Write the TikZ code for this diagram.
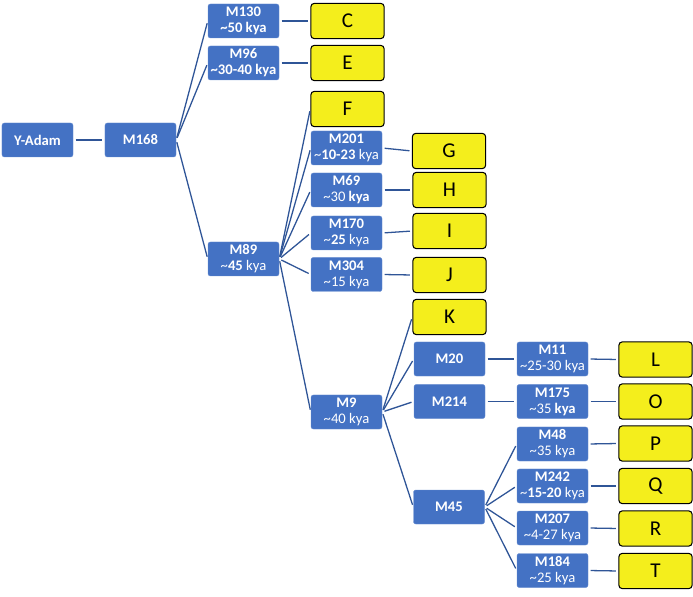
\documentclass[tikz,border=0pt]{standalone}
\usepackage{fontspec}
\setmainfont{Carlito}
\usetikzlibrary{positioning}
\definecolor{boxblue}{RGB}{68,114,196}
\definecolor{edgeblue}{RGB}{47,85,151}
\definecolor{leafyellow}{RGB}{244,238,28}
\newcommand{\ap}{\textasciitilde}

\begin{document}
\begin{tikzpicture}[x=0.03cm,y=-0.03cm,
  snp/.style={rectangle,rounded corners=2pt,fill=boxblue,draw=boxblue!80!white,text=white,minimum width=2.13cm,minimum height=1.02cm,inner sep=0pt,align=center,font=\fontsize{12.5}{13.8}\selectfont},
  hap/.style={rectangle,rounded corners=3pt,fill=leafyellow,draw=black,line width=0.9pt,minimum width=2.2cm,minimum height=1.06cm,inner sep=0pt,font=\fontsize{18}{20}\selectfont},
  link/.style={draw=edgeblue,line width=1.1pt,shorten <=2pt,shorten >=2pt}]
\useasboundingbox (0,0) rectangle (693,597);

\node [snp] (yadam) at (37.5,140) {\textbf{Y-Adam}};
\node [snp] (m168) at (140.5,140) {\textbf{M168}};
\node [snp] (m130) at (243.5,21) {\textbf{M130}\\\textbf{\ap50 kya}};
\node [snp] (m96) at (243.5,63) {\textbf{M96}\\\textbf{\ap30-40 kya}};
\node [snp] (m89) at (243.5,259) {\textbf{M89}\\\ap\textbf{45} kya};

\node [hap] (c) at (347.5,21) {C};
\node [hap] (e) at (347.5,63) {E};
\node [hap] (f) at (347.5,109) {F};
\node [snp] (m201) at (346.5,148) {\textbf{M201}\\\ap\textbf{10-23} kya};
\node [snp] (m69) at (346.5,190) {\textbf{M69}\\\ap30 \textbf{kya}};
\node [snp] (m170) at (346.5,233) {\textbf{M170}\\\ap\textbf{25} kya};
\node [snp] (m304) at (346.5,274.5) {\textbf{M304}\\\ap15 kya};
\node [snp] (m9) at (346.5,412) {\textbf{M9}\\\ap40 kya};

\node [hap] (g) at (449,151) {G};
\node [hap] (h) at (449.5,190) {H};
\node [hap] (i) at (449.5,231) {I};
\node [hap] (j) at (449.5,275) {J};
\node [hap] (k) at (449.5,317) {K};
\node [snp] (m20) at (449.5,359) {\textbf{M20}};
\node [snp] (m214) at (449.5,401.5) {\textbf{M214}};
\node [snp] (m45) at (449,507) {\textbf{M45}};

\node [snp] (m11) at (552.5,359) {\textbf{M11}\\\ap25-30 kya};
\node [snp] (m175) at (552.5,401.5) {\textbf{M175}\\\ap35 \textbf{kya}};
\node [snp] (m48) at (552.5,444) {\textbf{M48}\\\ap35 kya};
\node [snp] (m242) at (552.5,486) {\textbf{M242}\\\ap\textbf{15-20} kya};
\node [snp] (m207) at (552.5,528) {\textbf{M207}\\\ap4-27 kya};
\node [snp] (m184) at (552.5,570.5) {\textbf{M184}\\\ap25 kya};

\node [hap] (l) at (655.5,359.5) {L};
\node [hap] (o) at (655.5,401.5) {O};
\node [hap] (p) at (655.5,443.5) {P};
\node [hap] (q) at (655.5,486) {Q};
\node [hap] (r) at (655.5,528.5) {R};
\node [hap] (t) at (655.5,571) {T};

\draw [link] (yadam.east) -- (m168.west);
\draw [link] (m168.east) -- (m130.west);
\draw [link] (m168.east) -- (m96.west);
\draw [link] (m168.east) -- (m89.west);
\draw [link] (m130.east) -- (c.west);
\draw [link] (m96.east) -- (e.west);
\draw [link] (m89.east) -- (f.west);
\draw [link] (m89.east) -- (m201.west);
\draw [link] (m89.east) -- (m69.west);
\draw [link] (m89.east) -- (m170.west);
\draw [link] (m89.east) -- (m304.west);
\draw [link] (m89.east) -- (m9.west);
\draw [link] (m201.east) -- (g.west);
\draw [link] (m69.east) -- (h.west);
\draw [link] (m170.east) -- (i.west);
\draw [link] (m304.east) -- (j.west);
\draw [link] (m9.east) -- (k.west);
\draw [link] (m9.east) -- (m20.west);
\draw [link] (m9.east) -- (m214.west);
\draw [link] (m9.east) -- (m45.west);
\draw [link] (m20.east) -- (m11.west);
\draw [link] (m214.east) -- (m175.west);
\draw [link] (m11.east) -- (l.west);
\draw [link] (m175.east) -- (o.west);
\draw [link] (m45.east) -- (m48.west);
\draw [link] (m45.east) -- (m242.west);
\draw [link] (m45.east) -- (m207.west);
\draw [link] (m45.east) -- (m184.west);
\draw [link] (m48.east) -- (p.west);
\draw [link] (m242.east) -- (q.west);
\draw [link] (m207.east) -- (r.west);
\draw [link] (m184.east) -- (t.west);

\end{tikzpicture}
\end{document}
